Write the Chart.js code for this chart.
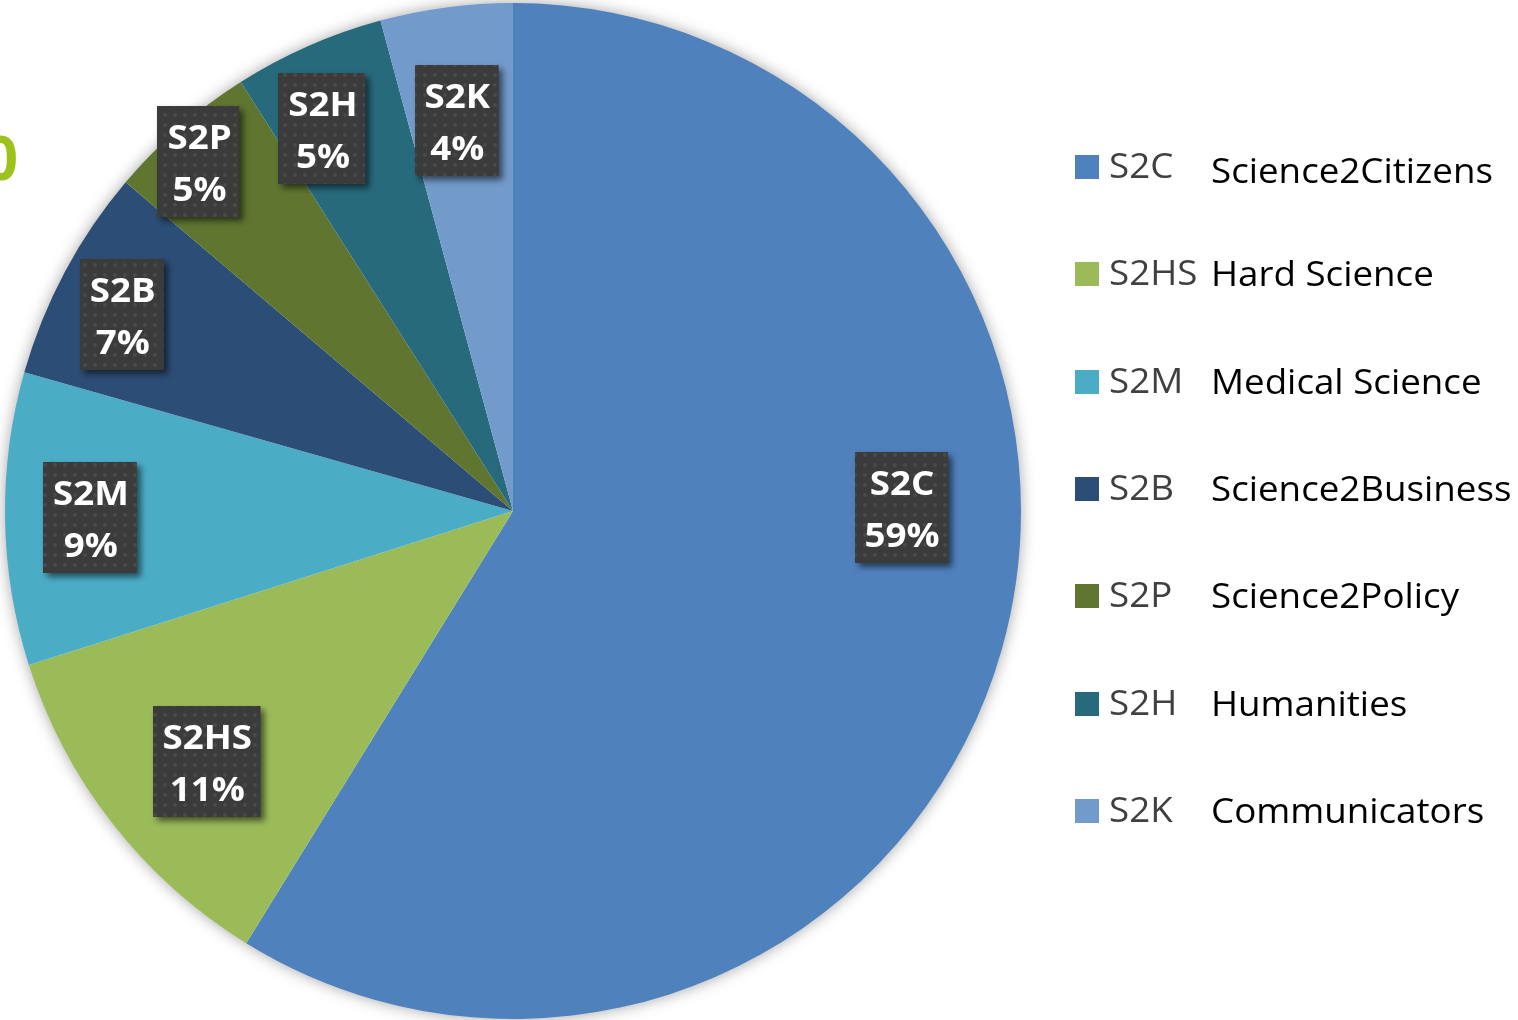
<!DOCTYPE html>
<html>
<head>
<meta charset="utf-8">
<script src="https://cdn.jsdelivr.net/npm/chart.js@4"></script>
<style>
  html, body { margin: 0; padding: 0; background: #ffffff; overflow: hidden; }
  #wrap { position: relative; width: 1518px; height: 1020px; }
  canvas { display: block; }
</style>
</head>
<body>
<div id="wrap"><canvas id="c" width="1518" height="1020"></canvas></div>
<script>
// ---- data ----
const codes  = ['S2C', 'S2HS', 'S2M', 'S2B', 'S2P', 'S2H', 'S2K'];
const names  = ['Science2Citizens', 'Hard Science', 'Medical Science', 'Science2Business', 'Science2Policy', 'Humanities', 'Communicators'];
const values = [58.8, 11.3, 9.3, 6.8, 4.8, 4.8, 4.2];
const colors = ['#4F81BD', '#9BBB59', '#4BACC6', '#2C4D75', '#5F7530', '#276A7C', '#729ACA'];
const cutTitle = '0';

// ---- label placement options (radius fraction / angle shift in degrees) ----
const labelRadius = [0.764, 0.78, 0.833, 0.862, 0.926, 0.841, 0.776];
const labelShift  = [-16.4, -1.3, 0, -1.4, -0.9, -2.8, -0.7];

const FONT = '"Open Sans", "Noto Sans", sans-serif';
const SX = 1.08; // horizontal text stretch

function makePattern(ctx) {
  const p = document.createElement('canvas');
  p.width = 10; p.height = 10;
  const g = p.getContext('2d');
  g.fillStyle = '#3b3b3b';
  g.fillRect(0, 0, 10, 10);
  g.fillStyle = 'rgba(255,255,255,0.08)';
  g.beginPath(); g.arc(5, 5, 2, 0, Math.PI * 2); g.fill();
  return ctx.createPattern(p, 'repeat');
}

function stretchText(ctx, text, x, y, align) {
  ctx.save();
  ctx.translate(x, y);
  ctx.scale(SX, 1);
  ctx.textAlign = align;
  ctx.fillText(text, 0, 0);
  ctx.restore();
}

const pieShadow = {
  id: 'pieShadow',
  beforeDatasetsDraw(chart) {
    const arc = chart.getDatasetMeta(0).data[0];
    if (!arc) return;
    const {x, y, outerRadius} = arc.getProps(['x', 'y', 'outerRadius'], true);
    const ctx = chart.ctx;
    ctx.save();
    ctx.shadowColor = 'rgba(0,0,0,0.4)';
    ctx.shadowBlur = 16;
    ctx.fillStyle = '#ffffff';
    ctx.beginPath(); ctx.arc(x, y, outerRadius - 1, 0, Math.PI * 2); ctx.fill();
    ctx.restore();
  }
};

const boxLabels = {
  id: 'boxLabels',
  afterDatasetsDraw(chart) {
    const ctx = chart.ctx;
    const meta = chart.getDatasetMeta(0);
    const total = values.reduce((a, b) => a + b, 0);
    const pattern = makePattern(ctx);
    meta.data.forEach((arc, i) => {
      const p = arc.getProps(['x', 'y', 'startAngle', 'endAngle', 'outerRadius'], true);
      const mid = (p.startAngle + p.endAngle) / 2 + labelShift[i] * Math.PI / 180;
      const r = p.outerRadius * labelRadius[i];
      const cx = p.x + Math.cos(mid) * r;
      const cy = p.y + Math.sin(mid) * r;
      const l1 = codes[i];
      const l2 = Math.round(values[i] / total * 100) + '%';
      ctx.save();
      ctx.font = 'bold 34px ' + FONT;
      const w = Math.max(ctx.measureText(l1).width, ctx.measureText(l2).width) * SX + 18;
      const h = 111;
      const bx = Math.round(cx - w / 2), by = Math.round(cy - h / 2);
      ctx.shadowColor = 'rgba(0,0,0,0.55)';
      ctx.shadowBlur = 6;
      ctx.shadowOffsetX = 4;
      ctx.shadowOffsetY = 4;
      ctx.fillStyle = pattern;
      ctx.fillRect(bx, by, w, h);
      ctx.shadowColor = 'transparent';
      ctx.fillStyle = '#ffffff';
      ctx.textBaseline = 'alphabetic';
      stretchText(ctx, l1, cx + 1, by + 43, 'center');
      stretchText(ctx, l2, cx + 1, by + 95, 'center');
      ctx.restore();
    });
  }
};

const sideLegend = {
  id: 'sideLegend',
  afterDraw(chart) {
    const ctx = chart.ctx;
    ctx.save();
    // clipped title fragment at left
    ctx.font = 'bold 60px ' + FONT;
    ctx.fillStyle = '#9CC21B';
    ctx.textAlign = 'right';
    ctx.textBaseline = 'alphabetic';
    ctx.fillText(cutTitle, 18, 180);
    codes.forEach((c, i) => {
      const top = 155 + i * 107.3;
      ctx.fillStyle = colors[i];
      ctx.fillRect(1075, Math.round(top), 24, 24);
      ctx.font = '34px ' + FONT;
      ctx.fillStyle = '#404040';
      stretchText(ctx, c, 1109, top + 23, 'left');
      ctx.fillStyle = '#000000';
      stretchText(ctx, names[i], 1211, top + (i === 0 ? 28 : 24), 'left');
    });
    ctx.restore();
  }
};

new Chart(document.getElementById('c'), {
  type: 'pie',
  data: {
    labels: codes,
    datasets: [{ data: values, backgroundColor: colors, borderWidth: 0 }]
  },
  options: {
    responsive: false,
    devicePixelRatio: 1,
    animation: false,
    layout: { padding: { left: 5, top: 3, right: 497, bottom: 1 } },
    plugins: { legend: { display: false }, tooltip: { enabled: false } }
  },
  plugins: [pieShadow, boxLabels, sideLegend]
});
</script>
</body>
</html>
